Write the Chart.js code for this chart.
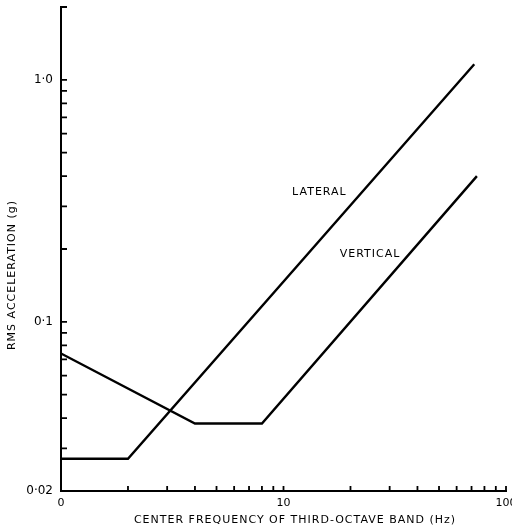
<!DOCTYPE html>
<html lang="en">
<head>
  <meta charset="UTF-8">
  <title>RMS acceleration vs third-octave band</title>
  <script src="https://cdn.jsdelivr.net/npm/chart.js"></script>
  <style>
    html, body { margin: 0; padding: 0; background: #fff; }
    #wrap { position: relative; width: 512px; height: 529px; }
  </style>
</head>
<body>
  <div id="wrap"><canvas id="chart"></canvas></div>
  <script>
    // ride comfort limits, log-log
    const lateralFreq = [1, 2, 72];
    const lateralAccel = [0.0272, 0.0272, 1.16];
    const verticalFreq = [1, 4, 8, 74];
    const verticalAccel = [0.074, 0.038, 0.038, 0.40];

    const xTicks = [1, 2, 3, 4, 5, 6, 7, 8, 9, 10, 20, 30, 40, 50, 60, 70, 80, 90, 100];
    const xLabels = { 1: '0', 10: '10', 100: '100' };
    const yTicks = [0.02, 0.03, 0.04, 0.05, 0.06, 0.07, 0.08, 0.09, 0.1,
                    0.2, 0.3, 0.4, 0.5, 0.6, 0.7, 0.8, 0.9, 1, 2];
    const yLabels = { 0.02: '0·02', 0.1: '0·1', 1: '1·0' };

    const FONT = '"DejaVu Sans", sans-serif';

    const toPoints = (xs, ys) => xs.map((x, i) => ({ x, y: ys[i] }));

    // inward tick marks, axis titles and curve names
    const decorations = {
      id: 'decorations',
      afterDraw(chart) {
        const { ctx, chartArea, scales } = chart;
        const x = scales.x, y = scales.y;
        ctx.save();
        ctx.strokeStyle = '#000';
        ctx.lineWidth = 1.8;
        ctx.beginPath();
        y.ticks.forEach(t => {
          const py = y.getPixelForValue(t.value);
          ctx.moveTo(chartArea.left, py);
          ctx.lineTo(chartArea.left + 6, py);
        });
        x.ticks.forEach(t => {
          const px = x.getPixelForValue(t.value);
          ctx.moveTo(px, chartArea.bottom);
          ctx.lineTo(px, chartArea.bottom - 5);
        });
        ctx.stroke();

        ctx.fillStyle = '#000';
        ctx.font = '11px ' + FONT;
        ctx.letterSpacing = '1px';
        ctx.textAlign = 'center';
        ctx.textBaseline = 'middle';
        ctx.fillText('CENTER FREQUENCY OF THIRD-OCTAVE BAND (Hz)', 295, 520);

        ctx.save();
        ctx.translate(12, 275);
        ctx.rotate(-Math.PI / 2);
        ctx.fillText('RMS ACCELERATION (g)', 0, 0);
        ctx.restore();

        ctx.fillText('LATERAL', x.getPixelForValue(14.5), y.getPixelForValue(0.345));
        ctx.fillText('VERTICAL', x.getPixelForValue(24.5), y.getPixelForValue(0.19));
        ctx.restore();
      }
    };

    const lineStyle = {
      borderColor: '#000',
      borderWidth: 2.4,
      pointRadius: 0,
      fill: false,
      tension: 0
    };

    new Chart(document.getElementById('chart'), {
      type: 'line',
      data: {
        datasets: [
          { label: 'LATERAL', data: toPoints(lateralFreq, lateralAccel), ...lineStyle },
          { label: 'VERTICAL', data: toPoints(verticalFreq, verticalAccel), ...lineStyle }
        ]
      },
      options: {
        responsive: true,
        maintainAspectRatio: false,
        animation: false,
        layout: { padding: { top: 7, right: 6, left: 0, bottom: 0 } },
        plugins: {
          legend: { display: false },
          tooltip: { enabled: false }
        },
        scales: {
          x: {
            type: 'logarithmic',
            min: 1,
            max: 100,
            afterBuildTicks: s => { s.ticks = xTicks.map(v => ({ value: v })); },
            afterFit: s => { s.height = 38; s.paddingLeft = 0; s.paddingRight = 0; },
            grid: { display: false, drawTicks: false },
            border: { display: true, color: '#000', width: 2 },
            ticks: {
              autoSkip: false,
              maxRotation: 0,
              padding: 6,
              color: '#000',
              font: { family: FONT, size: 11 },
              callback: v => xLabels[v] || ''
            }
          },
          y: {
            type: 'logarithmic',
            min: 0.02,
            max: 2,
            afterBuildTicks: s => { s.ticks = yTicks.map(v => ({ value: v })); },
            afterFit: s => { s.width = 61; s.paddingTop = 0; s.paddingBottom = 0; },
            grid: { display: false, drawTicks: false },
            border: { display: true, color: '#000', width: 2 },
            ticks: {
              autoSkip: false,
              padding: 8,
              color: '#000',
              font: { family: FONT, size: 12 },
              callback: v => yLabels[v] || ''
            }
          }
        }
      },
      plugins: [decorations]
    });
  </script>
</body>
</html>
